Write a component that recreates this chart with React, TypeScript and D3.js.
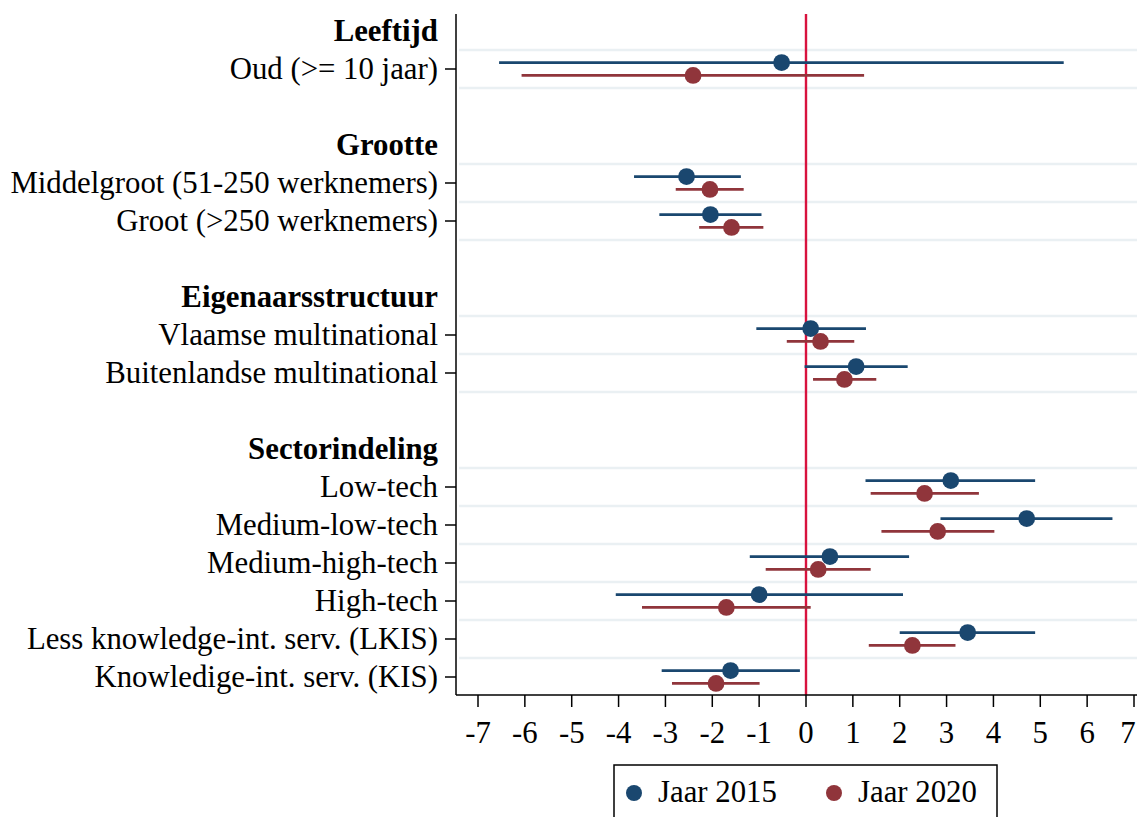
import React from "react";
import * as d3 from "d3";

// Row layout (index = row in the plot, headers are bold)
const rowLabels = [
  { label: "Leeftijd", header: true },
  { label: "Oud (>= 10 jaar)", header: false },
  { label: "", header: true },
  { label: "Grootte", header: true },
  { label: "Middelgroot (51-250 werknemers)", header: false },
  { label: "Groot (>250 werknemers)", header: false },
  { label: "", header: true },
  { label: "Eigenaarsstructuur", header: true },
  { label: "Vlaamse multinational", header: false },
  { label: "Buitenlandse multinational", header: false },
  { label: "", header: true },
  { label: "Sectorindeling", header: true },
  { label: "Low-tech", header: false },
  { label: "Medium-low-tech", header: false },
  { label: "Medium-high-tech", header: false },
  { label: "High-tech", header: false },
  { label: "Less knowledge-int. serv. (LKIS)", header: false },
  { label: "Knowledige-int. serv. (KIS)", header: false },
];

const itemRows = [1, 4, 5, 8, 9, 12, 13, 14, 15, 16, 17];

// Jaar 2015: [estimate, lower, upper]
const est2015 = [-0.52, -2.55, -2.04, 0.1, 1.07, 3.09, 4.71, 0.51, -1.0, 3.45, -1.61];
const lo2015 = [-6.55, -3.67, -3.13, -1.06, -0.03, 1.27, 2.87, -1.2, -4.06, 2.0, -3.08];
const hi2015 = [5.5, -1.39, -0.95, 1.28, 2.17, 4.89, 6.54, 2.2, 2.07, 4.89, -0.13];

// Jaar 2020
const est2020 = [-2.41, -2.05, -1.59, 0.31, 0.82, 2.53, 2.81, 0.26, -1.7, 2.27, -1.92];
const lo2020 = [-6.07, -2.78, -2.28, -0.41, 0.15, 1.38, 1.61, -0.86, -3.5, 1.34, -2.86];
const hi2020 = [1.24, -1.33, -0.91, 1.03, 1.5, 3.69, 4.02, 1.38, 0.1, 3.19, -0.99];

const xTicks = [-7, -6, -5, -4, -3, -2, -1, 0, 1, 2, 3, 4, 5, 6, 7];

const seriesNames = ["Jaar 2015", "Jaar 2020"];
const COLORS = ["#1a476f", "#90353b"];
const REFCOLOR = "#d8123e";
const FONT = "'Liberation Serif', 'Times New Roman', serif";

export default function App() {
  const W = 1137;
  const H = 817;
  const left = 456;
  const right = W;
  const top = 14;
  const bottom = 695;
  const fs = 30.8;

  const x = d3.scaleLinear().domain([-7, 7]).range([478, 1134]);
  const y = d3.scaleLinear().domain([0, 17]).range([31, 677]);
  const off = 0.17;

  const series = [
    { est: est2015, lo: lo2015, hi: hi2015, dy: -off },
    { est: est2020, lo: lo2020, hi: hi2020, dy: off },
  ];

  const gridYs: number[] = [];
  itemRows.forEach((r) => {
    [r - 0.5, r + 0.5].forEach((v) => {
      if (!gridYs.includes(v) && v < 17.4) gridYs.push(v);
    });
  });

  return (
    <svg
      width={W}
      height={H}
      style={{ position: "absolute", left: 0, top: 0, background: "#fff" }}
      fontFamily={FONT}
    >
      <rect x={0} y={0} width={W} height={H} fill="#fff" />
      {/* grid lines */}
      {gridYs.map((g) => (
        <line key={g} x1={left + 3} x2={right} y1={y(g)} y2={y(g)} stroke="#eaf0f3" strokeWidth={2.5} />
      ))}
      {/* reference line */}
      <line x1={x(0)} x2={x(0)} y1={top} y2={bottom} stroke={REFCOLOR} strokeWidth={2.4} />
      {/* error bars and points */}
      {series.map((s, si) => (
        <g key={si}>
          {itemRows.map((r, i) => (
            <g key={r}>
              <line
                x1={x(s.lo[i])}
                x2={x(s.hi[i])}
                y1={y(r + s.dy)}
                y2={y(r + s.dy)}
                stroke={COLORS[si]}
                strokeWidth={2.7}
              />
              <circle cx={x(s.est[i])} cy={y(r + s.dy)} r={8.4} fill={COLORS[si]} />
            </g>
          ))}
        </g>
      ))}
      {/* y axis */}
      <line x1={left} x2={left} y1={top} y2={bottom} stroke="#000" strokeWidth={1.5} />
      {itemRows.map((r) => (
        <line key={r} x1={left - 11} x2={left} y1={y(r)} y2={y(r)} stroke="#000" strokeWidth={1.5} />
      ))}
      {rowLabels.map((d, i) =>
        d.label ? (
          <text
            key={i}
            x={438}
            y={y(i)}
            dy="0.33em"
            textAnchor="end"
            fontSize={fs}
            fontWeight={d.header ? "bold" : "normal"}
            fill="#000"
          >
            {d.label}
          </text>
        ) : null
      )}
      {/* x axis */}
      <line x1={left} x2={right} y1={bottom} y2={bottom} stroke="#000" strokeWidth={1.5} />
      {xTicks.map((t) => (
        <g key={t}>
          <line x1={x(t)} x2={x(t)} y1={bottom} y2={bottom + 12} stroke="#000" strokeWidth={1.5} />
          <text x={Math.min(x(t), 1128)} y={743} textAnchor="middle" fontSize={fs} fill="#000">
            {t}
          </text>
        </g>
      ))}
      {/* legend */}
      <rect x={614} y={765} width={383} height={80} fill="#fff" stroke="#000" strokeWidth={1.5} />
      {seriesNames.map((n, i) => (
        <g key={n}>
          <circle cx={634 + i * 200} cy={793} r={8} fill={COLORS[i]} />
          <text x={658 + i * 200} y={802} fontSize={fs} fill="#000">
            {n}
          </text>
        </g>
      ))}
    </svg>
  );
}
